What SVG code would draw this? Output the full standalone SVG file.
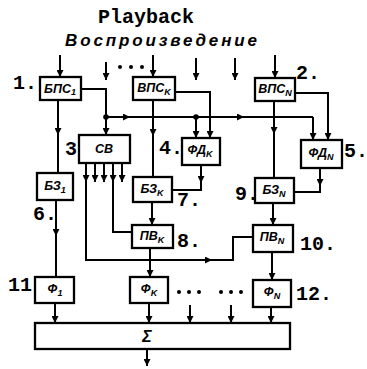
<svg xmlns="http://www.w3.org/2000/svg" width="367" height="369" viewBox="0 0 367 369">
<defs>
<marker id="ar" viewBox="0 0 10 10" refX="10" refY="5" markerWidth="9" markerHeight="7" markerUnits="userSpaceOnUse" orient="auto">
<path d="M0,0 L10,5 L0,10 z" fill="#000"/>
</marker>
<style>
.bx{fill:#fff;stroke:#000;stroke-width:2.3}
.ln{fill:none;stroke:#000;stroke-width:2}
.ar{marker-end:url(#ar)}
.mid{marker-mid:url(#ar)}
.bl{font-family:"Liberation Sans",Arial,sans-serif;font-style:italic;font-weight:bold;font-size:12.5px;text-anchor:middle}
.sb{font-size:9px}
.num{font-family:"Liberation Mono","Courier New",monospace;font-size:20px;font-weight:bold}
.dot{fill:#000}
</style>
</defs>
<rect width="367" height="369" fill="#fff"/>
<text x="146" y="23" font-family="Liberation Mono,monospace" font-weight="bold" font-size="20" text-anchor="middle">Playback</text>
<text x="65" y="46" font-family="Liberation Sans,sans-serif" font-style="italic" font-weight="bold" font-size="17" textLength="192" lengthAdjust="spacing">Воспроизведение</text>

<g id="connectors">
<path class="ln ar" d="M60,55 V77"/>
<path class="ln ar" d="M106,62 V80"/>
<path class="ln ar" d="M153,55 V77"/>
<path class="ln ar" d="M196,58 V80"/>
<path class="ln ar" d="M235,58 V80"/>
<path class="ln ar" d="M275,55 V78"/>
<circle class="dot" cx="120" cy="67" r="2"/>
<circle class="dot" cx="131" cy="67" r="2"/>
<circle class="dot" cx="142" cy="67" r="2"/>
<path class="ln ar" d="M81,89 H106 V135"/>
<path class="ln mid" d="M106,117 H130 H244 H313"/>
<path class="ln ar" d="M313,117 V140"/>
<circle class="dot" cx="106" cy="117" r="2.8"/>
<circle class="dot" cx="196" cy="117" r="2.8"/>
<path class="ln mid" d="M153,100 V136 V177"/>
<path class="ln ar" d="M175,92 H210 V138"/>
<path class="ln ar" d="M196,117 V138"/>
<path class="ln ar" d="M201,165 V183"/>
<path class="ln" d="M201,181 V190 H172"/>
<path class="ln ar" d="M152,202 V225"/>
<path class="ln ar" d="M150,248 V277"/>
<path class="ln ar" d="M149,303 V323"/>
<path class="ln ar" d="M86,163 V182"/>
<path class="ln ar" d="M95,163 V182"/>
<path class="ln ar" d="M104,163 V182"/>
<path class="ln ar" d="M113,163 V182"/>
<path class="ln ar" d="M122,163 V182"/>
<path class="ln" d="M86,180 V260 H233 V237 H253"/>
<path class="ln ar" d="M200,260 H212"/>
<path class="ln" d="M113,180 V232 H132"/>
<path class="ln mid" d="M58,100 V135 V173"/>
<path class="ln mid" d="M56,200 V236 V277"/>
<path class="ln ar" d="M55,303 V323"/>
<path class="ln mid" d="M274,101 V134 V178"/>
<path class="ln ar" d="M295,93 H328 V140"/>
<path class="ln ar" d="M320,168 V186"/>
<path class="ln" d="M320,184 V192 H294"/>
<path class="ln ar" d="M273,203 V225"/>
<path class="ln ar" d="M272,252 V280"/>
<path class="ln ar" d="M271,307 V323"/>
<path class="ln ar" d="M190,305 V323"/>
<path class="ln ar" d="M231,305 V323"/>
<circle class="dot" cx="179" cy="292" r="2"/>
<circle class="dot" cx="189" cy="292" r="2"/>
<circle class="dot" cx="199" cy="292" r="2"/>
<circle class="dot" cx="221" cy="292" r="2"/>
<circle class="dot" cx="231" cy="292" r="2"/>
<circle class="dot" cx="241" cy="292" r="2"/>
<path class="ln ar" d="M147,349 V366"/>
</g>

<g id="n1"><rect class="bx" x="40" y="77" width="41" height="23"/><text class="bl" x="60" y="93">БПС<tspan class="sb" dy="2">1</tspan></text><text class="num" x="13" y="89">1.</text></g>
<g id="nk"><rect class="bx" x="133" y="77" width="42" height="23"/><text class="bl" x="154" y="92">ВПС<tspan class="sb" dy="3">K</tspan></text></g>
<g id="nN"><rect class="bx" x="255" y="78" width="40" height="23"/><text class="bl" x="275" y="93">ВПС<tspan class="sb" dy="3">N</tspan></text><text class="num" x="296" y="79">2.</text></g>
<g id="n3"><rect class="bx" x="79" y="135" width="51" height="28"/><text class="bl" x="104" y="153">СВ</text><text class="num" x="65" y="155">3</text></g>
<g id="n4"><rect class="bx" x="182" y="138" width="38" height="27"/><text class="bl" x="200" y="154">ФД<tspan class="sb" dy="3">K</tspan></text><text class="num" x="159" y="154">4.</text></g>
<g id="n5"><rect class="bx" x="301" y="140" width="41" height="28"/><text class="bl" x="321" y="157">ФД<tspan class="sb" dy="3">N</tspan></text><text class="num" x="344" y="157">5.</text></g>
<g id="n6"><rect class="bx" x="37" y="173" width="36" height="27"/><text class="bl" x="55" y="190">БЗ<tspan class="sb" dy="3">1</tspan></text><text class="num" x="33" y="220">6.</text></g>
<g id="n7"><rect class="bx" x="133" y="177" width="39" height="25"/><text class="bl" x="152" y="193">БЗ<tspan class="sb" dy="3">K</tspan></text><text class="num" x="177" y="206">7.</text></g>
<g id="n8"><rect class="bx" x="132" y="225" width="41" height="23"/><text class="bl" x="152" y="240">ПВ<tspan class="sb" dy="3">K</tspan></text><text class="num" x="177" y="247">8.</text></g>
<g id="n9"><rect class="bx" x="255" y="178" width="39" height="25"/><text class="bl" x="274" y="194">БЗ<tspan class="sb" dy="3">N</tspan></text><text class="num" x="235" y="200">9.</text></g>
<g id="n10"><rect class="bx" x="253" y="225" width="40" height="27"/><text class="bl" x="272" y="241">ПВ<tspan class="sb" dy="3">N</tspan></text><text class="num" x="300" y="250">10.</text></g>
<g id="n11"><rect class="bx" x="35" y="277" width="39" height="26"/><text class="bl" x="55" y="293">Ф<tspan class="sb" dy="3">1</tspan></text><text class="num" x="8" y="291">11</text></g>
<g id="nfk"><rect class="bx" x="130" y="277" width="38" height="26"/><text class="bl" x="149" y="293">Ф<tspan class="sb" dy="3">K</tspan></text></g>
<g id="n12"><rect class="bx" x="253" y="280" width="38" height="27"/><text class="bl" x="272" y="296">Ф<tspan class="sb" dy="3">N</tspan></text><text class="num" x="296" y="300">12.</text></g>
<g id="sum"><rect class="bx" x="35" y="323" width="255" height="26"/><text class="bl" x="147" y="342" style="font-size:16px">Σ</text></g>
</svg>
